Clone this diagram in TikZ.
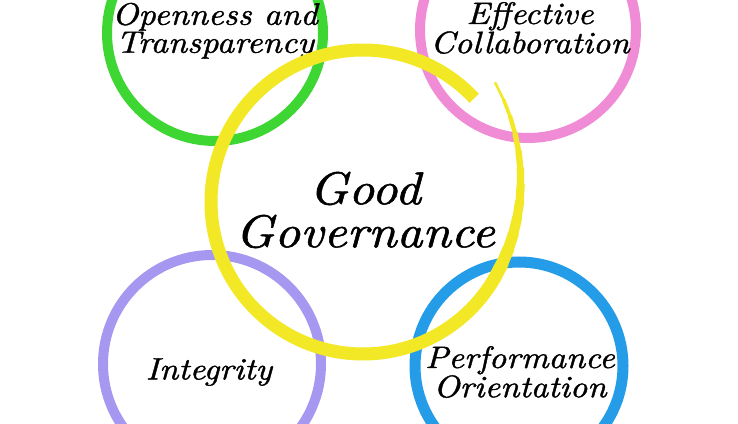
\documentclass[tikz,border=0pt]{standalone}
\usepackage{fontspec}
\usepackage{tikz}
\usetikzlibrary{calc}

\newfontfamily\handfont{lmroman10-italic.otf}[FakeStretch=1.1,FakeBold=1.2]

\definecolor{ringgreen}{RGB}{62,214,50}
\definecolor{ringpink}{RGB}{240,140,214}
\definecolor{ringyellow}{RGB}{242,232,38}
\definecolor{ringpurple}{RGB}{166,152,240}
\definecolor{ringblue}{RGB}{36,156,232}

\begin{document}
\begin{tikzpicture}[
  x=1pt, y=1pt,
  ring/.style={circle,draw=#1,line width=10pt,minimum size=216pt,inner sep=0pt},
  lab/.style={align=center,font=\handfont\fontsize{31}{28}\selectfont},
  big/.style={align=center,font=\handfont\fontsize{46}{43}\selectfont}
]
  \clip (0,0) rectangle (738,423);
  \fill[white] (0,0) rectangle (738,423);
  \node[ring=ringgreen] (open) at (215,390) {};
  \node[ring=ringpink] (coll) at (528,393) {};
  \node[ring=ringpurple,minimum size=218pt] (integ) at (212,59) {};
  \node[ring=ringblue,minimum size=208pt,line width=11pt] (perf) at (519,57) {};
  \node[lab] (open-t) at ([yshift=2]open) {Openness and\\Transparency};
  \node[lab] (coll-t) at ([xshift=2,yshift=2]coll) {Effective\\Collaboration};
  \node[lab] (integ-t) at ([xshift=-3,yshift=-8]integ) {Integrity};
  \node[lab] (perf-t) at ([xshift=1,yshift=-6]perf) {Performance\\Orientation};
  % yellow brush loop
  \coordinate (gov) at (363,221);
  \draw[ringyellow,line width=13pt] ($(gov)+(43:152)$) arc[start angle=43,end angle=330,radius=152];
  \foreach \i in {0,...,11}{
    \pgfmathsetmacro\aa{-30+6*\i}
    \pgfmathsetmacro\ab{-30+6*(\i+1)}
    \pgfmathsetmacro\ra{152+26*(\i/12)^2}
    \pgfmathsetmacro\rb{152+26*((\i+1)/12)^2}
    \pgfmathsetmacro\w{13-0.95*\i}
    \draw[ringyellow,line width=\w pt,line cap=round] ($(gov)+(\aa:\ra)$) -- ($(gov)+(\ab:\rb)$);
  }
  \node[big] (good) at (365,213) {Good\\Governance};
\end{tikzpicture}
\end{document}
